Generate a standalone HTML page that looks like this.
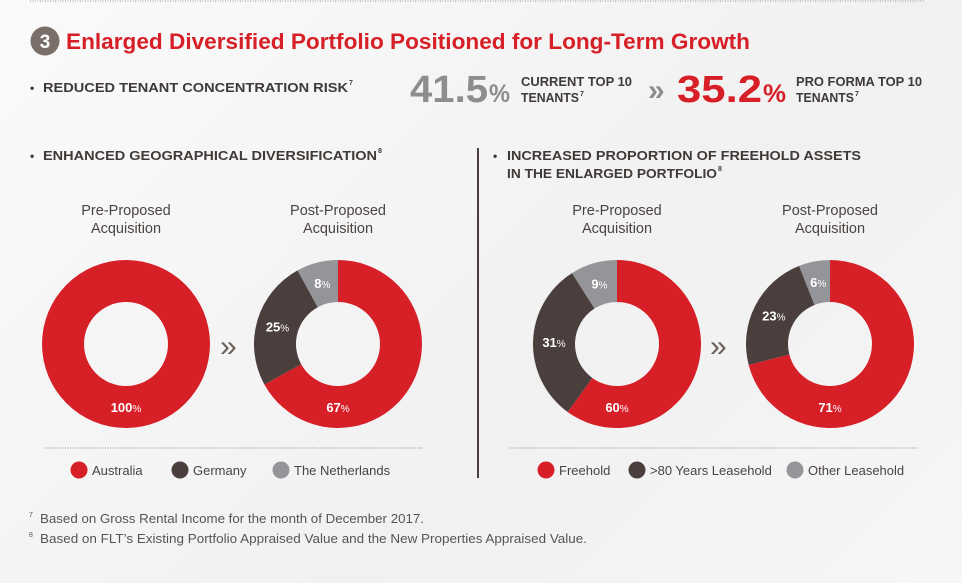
<!DOCTYPE html>
<html><head><meta charset="utf-8"><style>
html,body{margin:0;padding:0;}
body{width:962px;height:583px;overflow:hidden;background:linear-gradient(135deg,#fafafa,#f1f1f1 60%,#f6f6f6);font-family:"Liberation Sans",sans-serif;}
svg{display:block}
</style></head><body>
<svg id="chart" width="962" height="583" viewBox="0 0 962 583" xmlns="http://www.w3.org/2000/svg" font-family="Liberation Sans, sans-serif">
<line x1="30" y1="1" x2="925" y2="1" stroke="#999" stroke-dasharray="1,1.5"/>
<circle cx="45" cy="41" r="14.5" fill="#7a6e69"/>
<text x="45" y="48" text-anchor="middle" font-size="19" font-weight="bold" fill="#fff">3</text>
<text x="66" y="49" font-size="22" font-weight="bold" fill="#d71f27" textLength="684" lengthAdjust="spacingAndGlyphs">Enlarged Diversified Portfolio Positioned for Long-Term Growth</text>

<text x="30" y="92" font-size="12" font-weight="bold" fill="#3f3a37">•</text>
<text x="43" y="92" font-size="13" font-weight="bold" fill="#3f3a37" textLength="305" lengthAdjust="spacingAndGlyphs">REDUCED TENANT CONCENTRATION RISK</text>
<text x="349" y="85" font-size="7" font-weight="bold" fill="#3f3a37">7</text>

<text x="410" y="102" font-size="38" font-weight="bold" fill="#8d8d8d" textLength="78" lengthAdjust="spacingAndGlyphs">41.5</text>
<text x="489" y="102" font-size="25" font-weight="bold" fill="#8d8d8d" textLength="21" lengthAdjust="spacingAndGlyphs">%</text>
<text x="521" y="86" font-size="12.5" font-weight="bold" fill="#3f3a37" textLength="111" lengthAdjust="spacingAndGlyphs">CURRENT TOP 10</text>
<text x="521" y="102" font-size="12.5" font-weight="bold" fill="#3f3a37" textLength="58" lengthAdjust="spacingAndGlyphs">TENANTS</text>
<text x="580" y="96" font-size="7" font-weight="bold" fill="#3f3a37">7</text>
<text x="648" y="100" font-size="30" font-weight="bold" fill="#8d8d8d">»</text>
<text x="677" y="102" font-size="38" font-weight="bold" fill="#d71f27" textLength="85" lengthAdjust="spacingAndGlyphs">35.2</text>
<text x="763" y="102" font-size="25" font-weight="bold" fill="#d71f27" textLength="23" lengthAdjust="spacingAndGlyphs">%</text>
<text x="796" y="86" font-size="12.5" font-weight="bold" fill="#3f3a37" textLength="126" lengthAdjust="spacingAndGlyphs">PRO FORMA TOP 10</text>
<text x="796" y="102" font-size="12.5" font-weight="bold" fill="#3f3a37" textLength="58" lengthAdjust="spacingAndGlyphs">TENANTS</text>
<text x="855" y="96" font-size="7" font-weight="bold" fill="#3f3a37">7</text>

<text x="30" y="160" font-size="12" font-weight="bold" fill="#3f3a37">•</text>
<text x="43" y="160" font-size="13" font-weight="bold" fill="#3f3a37" textLength="334" lengthAdjust="spacingAndGlyphs">ENHANCED GEOGRAPHICAL DIVERSIFICATION</text>
<text x="378" y="153" font-size="7" font-weight="bold" fill="#3f3a37">8</text>
<line x1="478" y1="148" x2="478" y2="478" stroke="#4a3f3c" stroke-width="2"/>
<text x="493" y="160" font-size="12" font-weight="bold" fill="#3f3a37">•</text>
<text x="507" y="160" font-size="13" font-weight="bold" fill="#3f3a37" textLength="354" lengthAdjust="spacingAndGlyphs">INCREASED PROPORTION OF FREEHOLD ASSETS</text>
<text x="507" y="178" font-size="13" font-weight="bold" fill="#3f3a37" textLength="210" lengthAdjust="spacingAndGlyphs">IN THE ENLARGED PORTFOLIO</text>
<text x="718" y="171" font-size="7" font-weight="bold" fill="#3f3a37">8</text>

<g id="donuts"></g>

<text x="220" y="356" font-size="30" fill="#6b5f5a">»</text>
<text x="710" y="356" font-size="30" fill="#6b5f5a">»</text>

<line x1="45" y1="448" x2="423" y2="448" stroke="#888" stroke-dasharray="1,1.5"/>
<line x1="510" y1="448" x2="918" y2="448" stroke="#888" stroke-dasharray="1,1.5"/>
<g id="legends"></g>

<text x="29" y="517" font-size="7" fill="#555">7</text>
<text x="40" y="523" font-size="12.5" fill="#555" textLength="384" lengthAdjust="spacingAndGlyphs">Based on Gross Rental Income for the month of December 2017.</text>
<text x="29" y="537" font-size="7" fill="#555">8</text>
<text x="40" y="543" font-size="12.5" fill="#555" textLength="547" lengthAdjust="spacingAndGlyphs">Based on FLT’s Existing Portfolio Appraised Value and the New Properties Appraised Value.</text>
</svg>
<script>
const geoCategories = ["Australia", "Germany", "The Netherlands"];
const geoPre = [100, 0, 0];
const geoPost = [67, 25, 8];
const tenureCategories = ["Freehold", ">80 Years Leasehold", "Other Leasehold"];
const tenurePre = [60, 31, 9];
const tenurePost = [71, 23, 6];
const colors = ["#d71f27", "#4a3f3c", "#939598"];

const NS = "http://www.w3.org/2000/svg";
const donutG = document.getElementById("donuts");
const legendG = document.getElementById("legends");
function mk(tag, attrs, parent) {
  const e = document.createElementNS(NS, tag);
  for (const k in attrs) e.setAttribute(k, attrs[k]);
  parent.appendChild(e);
  return e;
}
function pt(cx, cy, r, frac) {
  const a = frac * 2 * Math.PI;
  return [cx + r * Math.sin(a), cy - r * Math.cos(a)];
}
function ringPath(cx, cy, R, r) {
  return `M${cx},${cy-R}A${R},${R} 0 1 1 ${cx},${cy+R}A${R},${R} 0 1 1 ${cx},${cy-R}Z` +
         `M${cx},${cy-r}A${r},${r} 0 1 1 ${cx},${cy+r}A${r},${r} 0 1 1 ${cx},${cy-r}Z`;
}
function donut(cx, cy, values, title, name) {
  const R = 84, r = 42, total = values.reduce((a, b) => a + b, 0);
  const t1 = mk("text", {x: cx, y: 215, "text-anchor": "middle", "font-size": 14.5, fill: "#4a4441"}, donutG);
  t1.textContent = title;
  
  
  const t2 = mk("text", {x: cx, y: 233, "text-anchor": "middle", "font-size": 14.5, fill: "#4a4441"}, donutG);
  t2.textContent = "Acquisition";
  
  
  let acc = 0;
  values.forEach((v, i) => {
    if (v <= 0) return;
    const f0 = acc / total, f1 = (acc + v) / total;
    let el;
    if (v >= total) {
      el = mk("path", {d: ringPath(cx, cy, R, r), fill: colors[i], "fill-rule": "evenodd"}, donutG);
    } else {
      const [x0, y0] = pt(cx, cy, R, f0), [x1, y1] = pt(cx, cy, R, f1);
      const [x2, y2] = pt(cx, cy, r, f1), [x3, y3] = pt(cx, cy, r, f0);
      const large = (f1 - f0) > 0.5 ? 1 : 0;
      el = mk("path", {d: `M${x0},${y0}A${R},${R} 0 ${large} 1 ${x1},${y1}L${x2},${y2}A${r},${r} 0 ${large} 0 ${x3},${y3}Z`, fill: colors[i]}, donutG);
    }
    
    
    let lx, ly;
    if (i === 0) { lx = cx; ly = cy + 63; }
    else { [lx, ly] = pt(cx, cy, 63, (f0 + f1) / 2); }
    const lab = mk("text", {x: lx, y: ly + 5, "text-anchor": "middle", "font-size": 13, "font-weight": "bold", fill: "#fff"}, donutG);
    const n = mk("tspan", {}, lab); n.textContent = v;
    const p = mk("tspan", {"font-size": 10, "font-weight": "normal"}, lab); p.textContent = "%";
    
    
    acc += v;
  });
}
donut(126, 344, geoPre, "Pre-Proposed", "geo-pre-donut");
donut(338, 344, geoPost, "Post-Proposed", "geo-post-donut");
donut(617, 344, tenurePre, "Pre-Proposed", "tenure-pre-donut");
donut(830, 344, tenurePost, "Post-Proposed", "tenure-post-donut");

function legend(cats, xs, prefix) {
  cats.forEach((c, i) => {
    const dot = mk("circle", {cx: xs[i], cy: 470, r: 8.5, fill: colors[i]}, legendG);
    
    
    const t = mk("text", {x: xs[i] + 13, y: 475, "font-size": 13, fill: "#4a4441"}, legendG);
    t.textContent = c;
    
    
  });
}
legend(geoCategories, [79, 180, 281], "geo");
legend(tenureCategories, [546, 637, 795], "tenure");
</script>
</body></html>
